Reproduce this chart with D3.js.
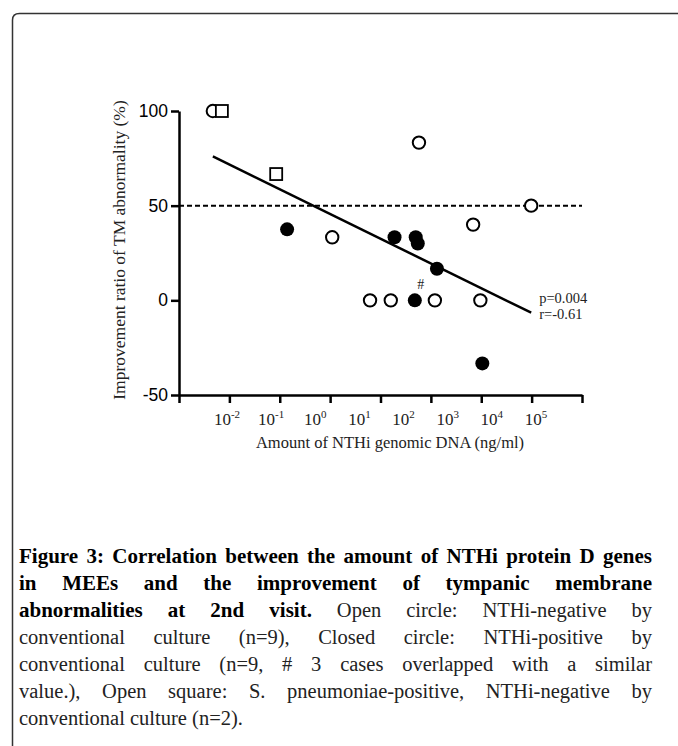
<!DOCTYPE html>
<html>
<head>
<meta charset="utf-8">
<script src="https://cdn.jsdelivr.net/npm/d3@7"></script>
<style>
  body { margin: 0; background: #fff; }
  #wrap { position: relative; width: 678px; height: 746px; overflow: hidden; }
  svg { position: absolute; left: 0; top: 0; }
  .cap { position: absolute; left: 19px; width: 633px; font-family: "Liberation Serif", serif; font-size: 20.5px; line-height: 27px; color: #222; text-align: justify; text-align-last: justify; white-space: nowrap; }
  .cap.last { text-align-last: left; }
  .cap b { color: #000; font-size: 21px; }
</style>
</head>
<body>
<div id="wrap"></div>
<script>
// data
const openX = [0.0047, 1.1, 6.2, 16, 58, 120, 960, 690, 9800];
const openY = [100, 33.3, 0, 0, 83.3, 0, 0, 40, 50];
const closedX = [0.14, 19, 50, 55, 132, 48, 1050];
const closedY = [37.5, 33.3, 33.3, 30, 16.7, 0, -33.3];
const squareX = [0.0071, 0.085];
const squareY = [100, 66.7];
const yTicks = [-50, 0, 50, 100];
const xTicks = [1e-3, 1e-2, 1e-1, 1e0, 1e1, 1e2, 1e3, 1e4, 1e5];
const xLabelExp = [-2, -1, 0, 1, 2, 3, 4, 5];
const refLine = 50;
const fitIntercept = 45.6, fitSlope = -13.06; // y = a + b*log10(x)
const statText = ["p=0.004", "r=-0.61"];
const overlapMark = { x: 48, y: 0, text: "#" };

const W = 678, H = 746;
const wrap = d3.select('#wrap');
const svg = wrap.append('svg').attr('width', W).attr('height', H);

// frame (only top/left visible, rounded corner)
svg.append('path')
  .attr('d', 'M12.5,' + (H + 5) + ' L12.5,20 Q12.5,13.5 19.5,13.5 L' + (W + 5) + ',13.5')
  .attr('fill', 'none').attr('stroke', '#333').attr('stroke-width', 1.5);

const x = d3.scaleLog().domain([1e-3, 1e5]).range([179, 582]);
const xLab = d3.scaleLog().domain([1e-2, 1e5]).range([230, 539]); // labels sit compressed in the original
const y = d3.scaleLinear().domain([-50, 100]).range([395, 111]);

// axes
const gy = svg.append('g').attr('transform', 'translate(179,0)')
  .call(d3.axisLeft(y).tickValues(yTicks).tickSize(8).tickSizeOuter(0).tickPadding(3).tickFormat(d => String(d)));
const gx = svg.append('g').attr('transform', 'translate(0,395)')
  .call(d3.axisBottom(x).tickValues(xTicks).tickSize(8).tickSizeOuter(0).tickFormat(''));
[gx, gy].forEach(g => {
  g.select('.domain').attr('stroke', '#000').attr('stroke-width', 2.5);
  g.selectAll('.tick line').attr('stroke', '#000').attr('stroke-width', 2.5);
});
gy.selectAll('.tick text').attr('font-family', '"Liberation Sans", Arial, sans-serif').attr('font-size', 17.5).attr('fill', '#000');

// x tick labels 10^n
const lab = svg.append('g').attr('font-family', '"Liberation Serif", serif').attr('fill', '#222');
const t = lab.selectAll('text').data(xLabelExp).enter().append('text')
  .attr('x', d => xLab(Math.pow(10, d)) - 3)
  .attr('y', 425).attr('text-anchor', 'middle').attr('font-size', 17);
t.append('tspan').text('10');
t.append('tspan').attr('dy', -7).attr('font-size', 11).text(d => d < 0 ? '-' + (-d) : d);

// axis titles
svg.append('text').attr('x', 390).attr('y', 448).attr('text-anchor', 'middle')
  .attr('font-family', '"Liberation Serif", serif').attr('font-size', 16.5).attr('fill', '#222')
  .text('Amount of NTHi genomic DNA (ng/ml)');
svg.append('text').attr('transform', 'translate(125,250) rotate(-90)').attr('text-anchor', 'middle')
  .attr('font-family', '"Liberation Serif", serif').attr('font-size', 17.5).attr('fill', '#222')
  .text('Improvement ratio of TM abnormality (%)');

// dashed reference line
svg.append('line').attr('x1', x(1e-3)).attr('x2', x(1e5)).attr('y1', y(refLine)).attr('y2', y(refLine))
  .attr('stroke', '#000').attr('stroke-width', 2).attr('stroke-dasharray', '5,3');

// regression line across the data range
const allX = openX.concat(closedX, squareX);
const ext = d3.extent(allX);
svg.append('path')
  .datum(ext)
  .attr('d', d3.line().x(d => x(d)).y(d => y(fitIntercept + fitSlope * Math.log10(d))))
  .attr('stroke', '#000').attr('stroke-width', 2.5).attr('fill', 'none');

// points
svg.append('g').selectAll('circle').data(openX.map((v, i) => [v, openY[i]])).enter()
  .append('circle').attr('cx', d => x(d[0])).attr('cy', d => y(d[1])).attr('r', 6.2)
  .attr('fill', '#fff').attr('stroke', '#000').attr('stroke-width', 2);
svg.append('g').selectAll('circle').data(closedX.map((v, i) => [v, closedY[i]])).enter()
  .append('circle').attr('cx', d => x(d[0])).attr('cy', d => y(d[1])).attr('r', 7)
  .attr('fill', '#000');
svg.append('g').selectAll('rect').data(squareX.map((v, i) => [v, squareY[i]])).enter()
  .append('rect').attr('x', d => x(d[0]) - 6).attr('y', d => y(d[1]) - 6).attr('width', 12).attr('height', 12)
  .attr('fill', '#fff').attr('stroke', '#000').attr('stroke-width', 1.8);

// annotations
svg.append('text').attr('x', x(overlapMark.x) + 6).attr('y', y(overlapMark.y) - 11).attr('text-anchor', 'middle')
  .attr('font-family', '"Liberation Serif", serif').attr('font-size', 14).attr('fill', '#222').text(overlapMark.text);
svg.append('g').selectAll('text').data(statText).enter().append('text')
  .attr('x', x(ext[1]) + 8).attr('y', (d, i) => 303 + i * 16)
  .attr('font-family', '"Liberation Serif", serif').attr('font-size', 14.5).attr('fill', '#222').text(d => d);

// caption
const capLines = [
  [['b', 'Figure 3: Correlation between the amount of NTHi protein D genes']],
  [['b', 'in MEEs and the improvement of tympanic membrane']],
  [['b', 'abnormalities at 2nd visit.'], ['n', ' Open circle: NTHi-negative by']],
  [['n', 'conventional culture (n=9), Closed circle: NTHi-positive by']],
  [['n', 'conventional culture (n=9, # 3 cases overlapped with a similar']],
  [['n', 'value.), Open square: S. pneumoniae-positive, NTHi-negative by']],
  [['n', 'conventional culture (n=2).']]
];
capLines.forEach((parts, i) => {
  const div = wrap.append('div').attr('class', 'cap' + (i === capLines.length - 1 ? ' last' : ''))
    .style('top', (543 + i * 27) + 'px');
  parts.forEach(p => div.append(p[0] === 'b' ? 'b' : 'span').text(p[1]));
});
</script>
</body>
</html>
